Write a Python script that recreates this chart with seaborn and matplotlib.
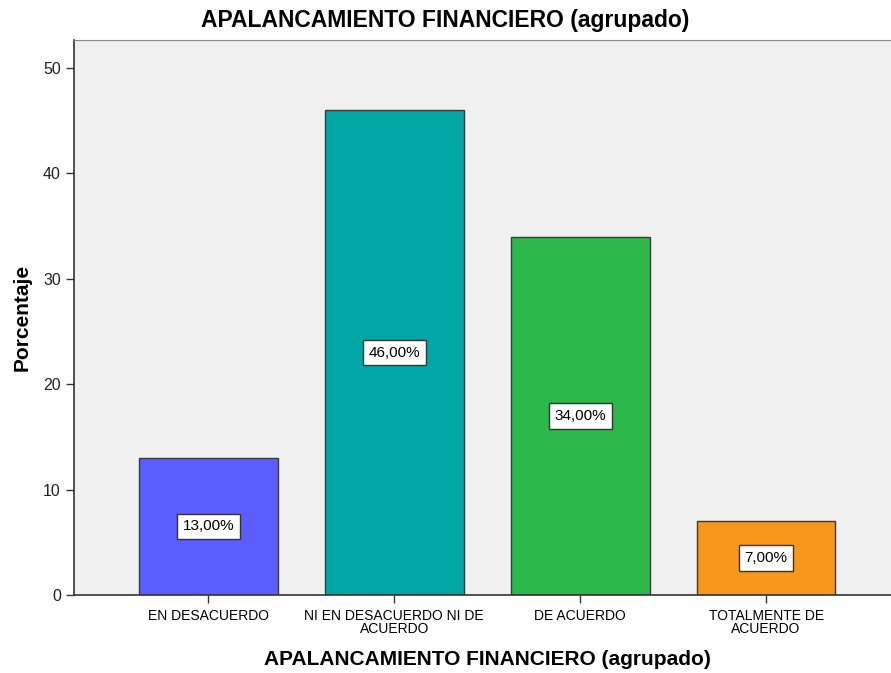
import matplotlib
matplotlib.use("Agg")
import matplotlib.pyplot as plt
import seaborn as sns
import pandas as pd

categories = ["EN DESACUERDO", "NI EN DESACUERDO NI DE\nACUERDO", "DE ACUERDO", "TOTALMENTE DE\nACUERDO"]
values = [13.0, 46.0, 34.0, 7.0]
labels = ["13,00%", "46,00%", "34,00%", "7,00%"]
colors = ["#5A5DFF", "#00A7A5", "#2DB84C", "#F7981D"]
yticks = [0, 10, 20, 30, 40, 50]

sns.set_style("white")
plt.rcParams["font.family"] = ["Liberation Sans", "DejaVu Sans"]
plt.rcParams["text.color"] = "black"

df = pd.DataFrame({"cat": categories, "val": values})

fig = plt.figure(figsize=(8.91, 6.73), dpi=100)
ax = fig.add_axes([74/891, 1-595/673, 1-74/891+0.01, (595-40)/673])
ax.set_facecolor("#F0F0F0")

sns.barplot(data=df, x="cat", y="val", hue="cat", palette=colors, legend=False,
            width=0.747, edgecolor="#3a3a3a", linewidth=1.0, saturation=1, ax=ax)

for i, (v, lab) in enumerate(zip(values, labels)):
    ax.text(i, v/2, lab, ha="center", va="center", fontsize=11, color="black",
            bbox=dict(boxstyle="square,pad=0.38", facecolor="white", edgecolor="#333333", linewidth=1.0))

ax.set_xlim(-0.723, 3.72)
ax.set_ylim(0, 52.65)
ax.set_yticks(yticks)
ax.set_yticklabels([str(t) for t in yticks], fontsize=11.5, color="#222222")
ax.tick_params(axis="both", direction="out", length=6, width=1, color="#333333", left=True, bottom=True)
ax.tick_params(axis="x", labelsize=10, pad=4, labelcolor="black")
for t in ax.get_xticklabels():
    t.set_linespacing(0.95)
ax.set_xlabel("APALANCAMIENTO FINANCIERO (agrupado)", fontsize=15, fontweight="bold", labelpad=10, color="black")
ax.set_ylabel("Porcentaje", fontsize=15, fontweight="bold", labelpad=8, color="black")
fig.text(0.5, 1-21/673, "APALANCAMIENTO FINANCIERO (agrupado)", fontsize=16.5, fontweight="bold",
         ha="center", va="center", color="black")

for side in ["left", "bottom"]:
    ax.spines[side].set_color("#333333")
    ax.spines[side].set_linewidth(1.2)
ax.spines["top"].set_color("#888888")
ax.spines["right"].set_visible(False)

fig.savefig("out.png", dpi=100)
